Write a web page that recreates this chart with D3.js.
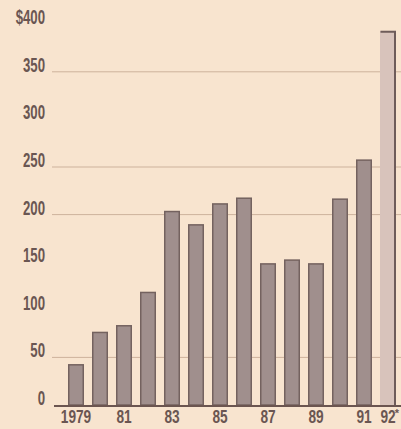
<!DOCTYPE html>
<html>
<head>
<meta charset="utf-8">
<script src="https://cdn.jsdelivr.net/npm/d3@7"></script>
<style>
html,body{margin:0;padding:0;background:#f8e4cf;}
svg{display:block;}
</style>
</head>
<body>
<svg id="chart" width="401" height="429"></svg>
<script>
const years = [1979,1980,1981,1982,1983,1984,1985,1986,1987,1988,1989,1990,1991,1992];
const values = [43,77,84,119,204,190,212,218,149,153,149,217,258,393];
const yTicks = [0,50,100,150,200,250,300,350,400];
const gridTicks = [50,200,250,350];
const xTickYears = [1979,1981,1983,1985,1987,1989,1991,1992];
const xTickLabels = ["1979","81","83","85","87","89","91","92"];
const estimateYear = 1992;

const svg = d3.select("#chart");
const W = 401, H = 429;
svg.append("rect").attr("width",W).attr("height",H).attr("fill","#f8e4cf");

const x = d3.scaleBand().domain(years).range([68,396]).paddingInner(1/3).paddingOuter(0);
const y = d3.scaleLinear().domain([0,400]).range([405,24.2]);

const textColor = "#6a5652";
const font = "'Liberation Sans',Arial,sans-serif";

// gridlines
svg.append("g").selectAll("line").data(gridTicks).join("line")
  .attr("x1",52).attr("x2",W)
  .attr("y1",d=>y(d)).attr("y2",d=>y(d))
  .attr("stroke","#cdb29c").attr("stroke-width",1);

// bars
const bars = svg.append("g");
years.forEach((yr,i)=>{
  const bx = x(yr), bw = x.bandwidth(), by = y(values[i]), bh = y(0)-y(values[i]);
  if (yr === estimateYear) {
    bars.append("rect").attr("x",bx).attr("y",by).attr("width",bw).attr("height",bh)
      .attr("fill","#d8c3bb");
    bars.append("path")
      .attr("d",`M${bx+0.5},${by+1}L${bx+bw-1},${by+1}L${bx+bw-1},${y(0)}`)
      .attr("fill","none").attr("stroke","#6e5c5a").attr("stroke-width",2);
  } else {
    bars.append("rect").attr("x",bx+0.75).attr("y",by+0.75).attr("width",bw-1.5).attr("height",bh-0.75)
      .attr("fill","#a08f8d").attr("stroke","#74625f").attr("stroke-width",1.5);
  }
});

// baseline
svg.append("line").attr("x1",54).attr("x2",W).attr("y1",y(0)+1).attr("y2",y(0)+1)
  .attr("stroke","#6b5550").attr("stroke-width",2.2);

// y axis
const yAxis = d3.axisLeft(y).tickValues(yTicks).tickSize(0)
  .tickFormat(d => d===400 ? "$400" : String(d));
const gy = svg.append("g").attr("transform","translate(45,0)").call(yAxis);
gy.select(".domain").remove();
gy.selectAll("text")
  .attr("x",0).attr("dy","-0.5")
  .attr("transform","scale(0.66,1)")
  .attr("fill",textColor)
  .style("font-family",font).style("font-size","20px").style("font-weight","bold");

// x axis
const xAxis = d3.axisBottom(x).tickValues(xTickYears).tickSize(0)
  .tickFormat(d => xTickLabels[xTickYears.indexOf(d)]);
const gx = svg.append("g").attr("transform",`translate(0,${y(0)})`).call(xAxis);
gx.select(".domain").remove();
gx.selectAll("text")
  .attr("y",18).attr("dy","0")
  .attr("transform","scale(0.76,1)")
  .attr("fill",textColor)
  .style("font-family",font).style("font-size","18px").style("font-weight","bold");
// asterisk on the estimated year
gx.selectAll(".tick").filter(d => d===estimateYear)
  .append("text")
  .attr("x",9).attr("y",12)
  .attr("fill",textColor)
  .style("font-family",font).style("font-size","11px").style("font-weight","bold")
  .text("*");
</script>
</body>
</html>
